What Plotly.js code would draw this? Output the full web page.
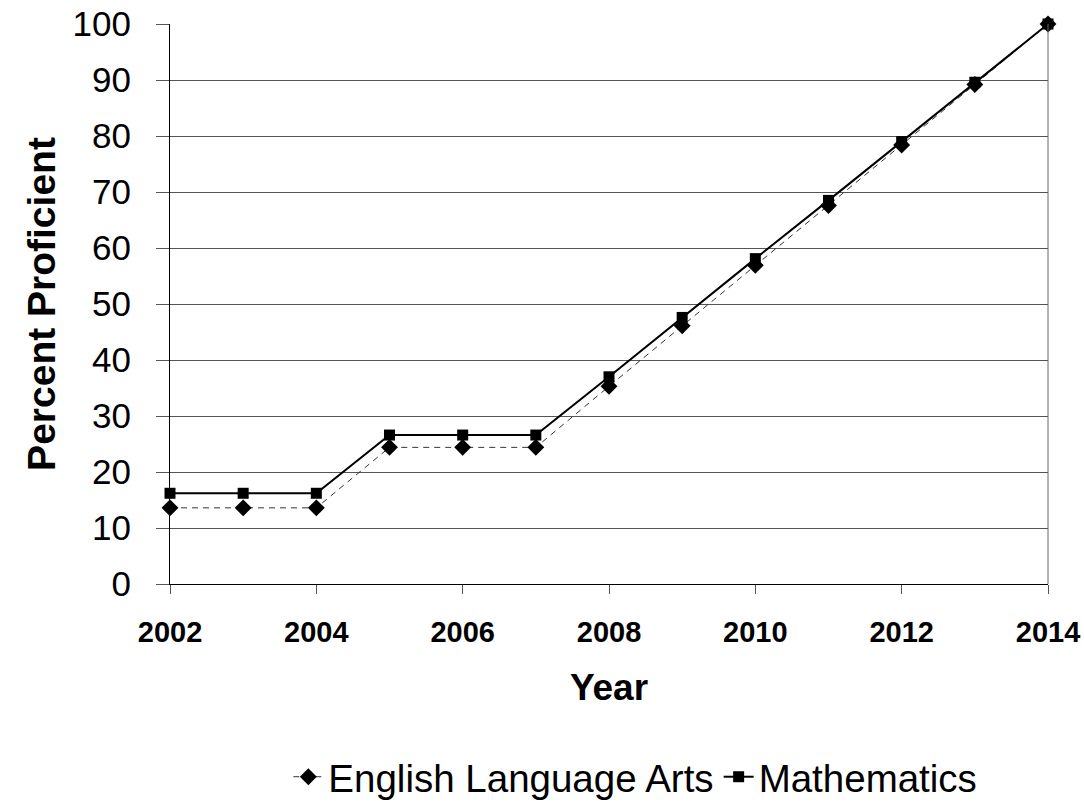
<!DOCTYPE html>
<html>
<head>
<meta charset="utf-8">
<script src="https://cdn.plot.ly/plotly-3.0.1.min.js"></script>
<style>html,body{margin:0;padding:0;background:#fff;}#chart{width:1084px;height:804px;}</style>
</head>
<body>
<div id="chart"></div>
<script>
const years = [2002, 2003, 2004, 2005, 2006, 2007, 2008, 2009, 2010, 2011, 2012, 2013, 2014];
const elaValues = [13.6, 13.6, 13.6, 24.4, 24.4, 24.4, 35.3, 46.1, 56.9, 67.6, 78.4, 89.2, 100];
const mathValues = [16.2, 16.2, 16.2, 26.6, 26.6, 26.6, 37.0, 47.6, 58.1, 68.5, 79.0, 89.6, 100];
const xTicks = [2002, 2004, 2006, 2008, 2010, 2012, 2014];
const seriesNames = ["English Language Arts", "Mathematics"];

const font = "Liberation Sans, Arial, sans-serif";

const traces = [
  {
    x: years, y: elaValues, name: seriesNames[0], type: "scatter", mode: "lines+markers",
    line: {color: "#333333", width: 1, dash: "6px,5px"},
    marker: {symbol: "diamond", size: 13, color: "#000000"},
    cliponaxis: false
  },
  {
    x: years, y: mathValues, name: seriesNames[1], type: "scatter", mode: "lines+markers",
    line: {color: "#000000", width: 2},
    marker: {symbol: "square", size: 11, color: "#000000"},
    cliponaxis: false
  }
];

const layout = {
  width: 1084, height: 804,
  margin: {l: 170, r: 36, t: 24, b: 220, autoexpand: false},
  paper_bgcolor: "#ffffff", plot_bgcolor: "#ffffff",
  font: {family: font, color: "#000000"},
  showlegend: true,
  legend: {
    orientation: "h", x: 0.53, xanchor: "center", y: -0.345, yanchor: "middle",
    font: {family: font, size: 38.5, color: "#000000"},
    tracegroupgap: 0
  },
  xaxis: {
    range: [2002, 2014], tickvals: xTicks, ticktext: xTicks.map(String),
    showgrid: false, zeroline: false, automargin: false,
    showline: true, linecolor: "#000000", linewidth: 1,
    ticks: "outside", ticklen: 9, tickcolor: "#555555",
    ticklabelstandoff: 13,
    tickfont: {family: font, size: 29, color: "#000000", weight: "bold"},
    title: {text: "<b>Year</b>", font: {family: font, size: 37, color: "#000000"}, standoff: 27}
  },
  yaxis: {
    range: [0, 100], dtick: 10, tick0: 0,
    showgrid: true, gridcolor: "#555555", gridwidth: 1, zeroline: false, automargin: false,
    showline: true, linecolor: "#000000", linewidth: 1,
    ticks: "outside", ticklen: 13, tickcolor: "#555555",
    ticklabelstandoff: 18,
    tickfont: {family: font, size: 35, color: "#000000"},
    title: {text: "<b>Percent Proficient</b>", font: {family: font, size: 39, color: "#000000"}, standoff: 4}
  },
  shapes: [
    {type: "line", xref: "paper", yref: "paper", x0: 1, x1: 1, y0: 0, y1: 1,
     line: {color: "#666666", width: 1}}
  ]
};

Plotly.newPlot("chart", traces, layout, {displayModeBar: false, staticPlot: true});
</script>
</body>
</html>
